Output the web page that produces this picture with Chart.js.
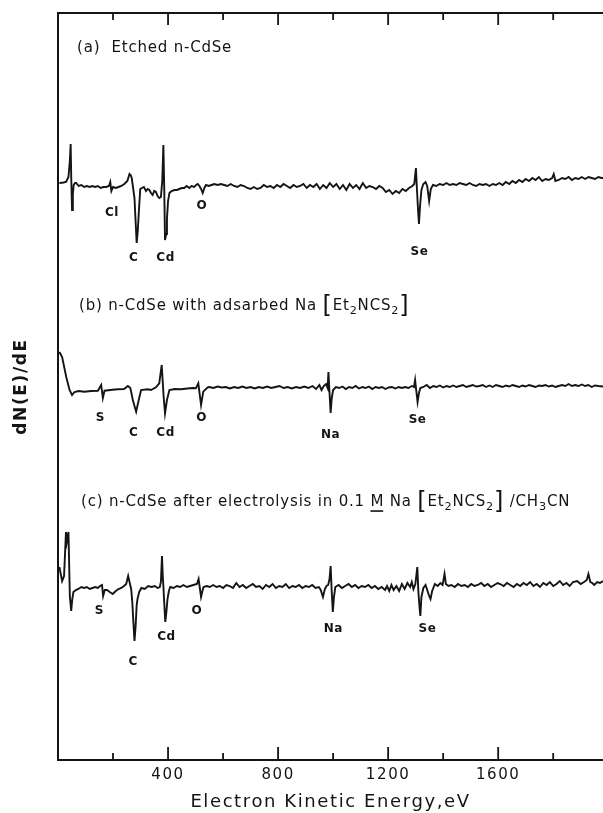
<!DOCTYPE html>
<html>
<head>
<meta charset="utf-8">
<script src="https://cdn.jsdelivr.net/npm/chart.js@4/dist/chart.umd.min.js"></script>
<style>
html,body{margin:0;padding:0;background:#fff;}
#wrap{width:603px;height:813px;position:relative;}
</style>
</head>
<body>
<div id="wrap"><canvas id="c"></canvas></div>
<script>
// ---------- DATA ----------
// x axis: electron kinetic energy (eV)
const X_MIN = 0, X_MAX = 1981;
const TICK_VALUES = [200, 400, 600, 800, 1000, 1200, 1400, 1600, 1800];
const TICK_LABELS = ['400', '800', '1200', '1600'];

// (a) Etched n-CdSe : energy (eV) and dN/dE (arbitrary units, relative to own baseline)
const ENERGY_A = [5,20,30,38,43,46,48,51,54,57,62,66,75,85,95,105,115,125,135,145,155,165,175,185,190,194,200,210,220,230,241,252,260,264,268,273,278,282,286,290,294,299,305,312,320,326,332,338,344,350,356,362,368,374,379,383,386,389,393,396,400,405,413,423,432,441,450,459,468,477,485,495,502,508,514,520,526,532,538,548,558,568,580,592,604,616,628,640,652,664,676,688,700,712,724,736,748,760,772,784,796,808,820,832,844,856,868,880,892,904,916,928,940,952,964,976,988,1000,1012,1024,1036,1048,1060,1072,1084,1096,1108,1120,1132,1144,1156,1168,1180,1192,1204,1216,1228,1240,1252,1264,1276,1288,1295,1301,1305,1309,1312,1316,1321,1328,1336,1342,1349,1355,1363,1375,1387,1400,1412,1424,1436,1448,1460,1472,1484,1496,1508,1520,1532,1544,1556,1568,1580,1592,1604,1616,1628,1640,1652,1664,1676,1688,1700,1712,1724,1736,1748,1760,1772,1784,1796,1802,1808,1820,1832,1844,1856,1868,1880,1892,1904,1916,1928,1940,1952,1964,1976,1981];
const DNDE_A = [3,3.5,4.3,9,25,42,10,-24,-8,1,3,3,0,1,-1,0,-1,0,-1,0,-2,-1,-1,0,4,-5,-1,-2,-1,0,2,5,12,11,8,-2,-12,-35,-57,-45,-25,-3,-2,-1,-5,-3,-4,-7,-9,-5,-6,-10,-12,-11,5,41,0,-54,-48,-33,-15,-7,-5,-4,-4,-3,-2,-2,0,-2,0,-1,1,2,0,-3,-7,-2,1,0,1,2,1,2,1,0,2,0,-1,1,0,-2,-3,-1,-3,-2,1,-1,0,-2,1,-1,2,0,-2,1,-1,0,2,-2,1,-1,2,-3,1,-2,3,-1,2,-3,1,-4,2,-2,1,-3,3,-2,0,-1,-3,0,-2,-6,-4,-8,-5,-7,-3,-5,-2,0,2,18,-5,-25,-38,-20,-4,2,4,0,-15,-3,1,0,2,1,3,1,2,1,3,2,1,3,1,0,2,1,2,0,2,1,3,1,4,2,5,3,6,4,7,5,8,6,9,5,7,6,8,12,5,6,8,7,9,6,8,7,9,7,9,8,7,9,8,8];

// (b) n-CdSe with adsorbed Na[Et2NCS2]
const ENERGY_B = [5,15,30,42,51,60,75,96,120,145,157,163,169,190,217,240,254,263,272,278,284,292,302,326,338,356,368,377,384,389,396,405,425,447,470,490,501,510,520,528,544,550,565,580,595,610,625,640,655,670,685,700,715,730,745,760,775,790,805,820,835,850,865,880,895,910,925,938,950,958,966,974,980,983,987,991,995,1000,1010,1022,1034,1046,1058,1070,1082,1094,1106,1118,1130,1142,1154,1166,1178,1190,1202,1214,1226,1238,1250,1262,1274,1286,1294,1298,1302,1307,1312,1317,1328,1340,1352,1364,1376,1388,1400,1412,1424,1436,1448,1460,1472,1484,1496,1508,1520,1532,1544,1556,1568,1580,1592,1604,1616,1628,1640,1652,1664,1676,1688,1700,1712,1724,1736,1748,1760,1772,1784,1796,1808,1820,1832,1844,1856,1868,1880,1892,1904,1916,1928,1940,1952,1964,1981];
const DNDE_B = [36,31,11,-2,-7,-4,-3,-3.7,-3,-2.7,3,-10,-2.7,-2,-1.3,-1,2,0,-12,-18,-23.7,-13.7,-2,-1.3,-2,0.7,4.7,23,-8.7,-25.3,-12,-2,-1,-1.3,-0.5,0,-0.3,4.7,-17,-3.7,0.7,1,0,1.5,0.5,1,-0.5,1,0,1.5,0,1,-0.5,1,0,1.5,0,1,2,0,1,-0.5,1,0,1.5,0,2,-1,3,-2,2,4,0,16,-5,-25,-10,-2,1,0,1.5,-1,1,0,2,-0.5,1,0,1.5,-1,1,0,1,-1,0.5,1,-0.5,1,0,1,0,2,1,8,-2,-14,-5,0,1,3,0,2,1,2.5,0.5,2,1,2.5,1,2,3,1,2,3,1.5,2,3,1,2.5,1,3,2,1,2.5,1.5,3,2,1,2.5,1.5,3,2,1,2.5,2,3,1.5,2.5,1,2,3,2,4,2,3,2,3.5,2,3,1,2.5,2,1.5];

// (c) n-CdSe after electrolysis in 0.1 M Na[Et2NCS2]/CH3CN
const ENERGY_C = [5,15,22,29,32,35,38,43,48,52,56,65,74,85,95,105,115,125,135,145,153,160,164,170,178,188,199,210,220,230,240,248,255,260,266,270,274,278,282,286,289,295,303,315,328,340,352,362,370,374,378,381,383,386,390,394,398,403,408,420,432,444,456,468,480,492,505,511,515,520,525,529,540,552,564,576,588,600,612,624,636,648,660,672,684,696,708,720,732,744,756,768,780,792,804,816,828,840,852,864,876,888,900,912,924,936,948,955,963,970,976,982,987,991,995,999,1003,1008,1020,1032,1044,1056,1068,1080,1092,1104,1116,1128,1140,1152,1164,1176,1189,1196,1204,1212,1220,1230,1240,1250,1260,1270,1280,1286,1292,1299,1306,1310,1314,1317,1321,1328,1336,1342,1348,1354,1360,1370,1380,1390,1398,1405,1410,1419,1430,1442,1454,1466,1478,1490,1502,1514,1526,1538,1550,1562,1574,1586,1598,1607,1620,1632,1644,1656,1668,1680,1692,1704,1716,1728,1740,1752,1764,1776,1788,1800,1812,1824,1836,1848,1860,1872,1887,1900,1912,1922,1928,1935,1942,1949,1960,1970,1981];
const DNDE_C = [20,6,11,55,45,50,55,-9,-24,-12,-5,-3,-2,0,-1,0,-2,-1,0,-1,1,2,-9,-3,-3,-5,-7,-4,-2,-1,1,3,11,5,-2,-15,-35,-54,-40,-18,-12,-5,-1,-2,1,0,1,-1,0,5,31,10,1,-15,-35,-25,-12,-4,0,-1,1,0,2,0,1,2,3,8,0,-10,-4,0,1,0,2,0,1,-1,2,1,-1,4,0,2,-1,1,3,0,1,-2,2,0,3,-1,1,0,3,-1,1,0,2,-1,1,0,2,-1,0,-3,-10,-2,1,2,8,21,-5,-25,-10,0,2,-1,1,3,0,2,-1,1,0,2,-1,1,-2,0,-3,1,-4,2,-3,1,-4,3,-2,4,0,5,-2,3,20,-5,-20,-29,-10,-1,2,-3,-8,-12,-4,3,1,4,2,13,3,1,2,0,3,1,2,0,3,1,2,4,1,3,0,2,4,3,1,4,2,0,3,1,4,2,5,1,3,0,4,2,5,1,3,6,2,4,1,5,6,3,5,7,13,5,4,2,5,4,6];

// vertical offsets of the three stacked spectra (dN/dE units)
const OFFSET_A = 574, OFFSET_B = 372, OFFSET_C = 173;
const Y_MAX = 747;

// peak labels: [text, energy eV]
const PEAKS_A = [['Cl',196],['C',275],['Cd',391],['O',523],['Se',1314]];
const PEAKS_B = [['S',154],['C',275],['Cd',391],['O',522],['Na',991],['Se',1307]];
const PEAKS_C = [['S',150],['C',273],['Cd',394],['O',505],['Na',1001],['Se',1343]];
// label vertical positions (px)
const PEAK_Y_A = {Cl:213, C:258, Cd:258, O:206, Se:252};
const PEAK_Y_B = {S:418, C:433, Cd:433, O:418, Na:435, Se:420};
const PEAK_Y_C = {S:611, C:662, Cd:637, O:611, Na:629, Se:629};

// ---------- CHART ----------
const FONT = '"DejaVu Sans", "Liberation Sans", sans-serif';
const INK = '#141414';

function series(E, V, off){ return E.map((e,i)=>({x:e, y:off+V[i]})); }

function drawRich(ctx, x, y, segs, size){
  let cx = x;
  segs.forEach(s=>{
    let fs = size, dy = 0;
    if (s.sub){ fs = size*0.75; dy = size*0.35; }
    if (s.big){ fs = size*1.6; dy = size*0.05; }
    ctx.font = fs + 'px ' + FONT;
    ctx.textBaseline = 'middle';
    ctx.fillText(s.t, cx, y+dy);
    const w = ctx.measureText(s.t).width;
    if (s.u){
      ctx.fillRect(cx, y+size*0.55, w-1, 1.6);
    }
    cx += w;
  });
}

const spacing = {
  id:'spacing',
  beforeDraw(chart){ chart.ctx.letterSpacing = '1.6px'; }
};

const decor = {
  id:'decor',
  afterDraw(chart){
    const ctx = chart.ctx, xs = chart.scales.x;
    const {top, bottom} = chart.chartArea;
    ctx.save();
    ctx.strokeStyle = INK; ctx.fillStyle = INK; ctx.lineWidth = 1.8;
    TICK_VALUES.forEach(v=>{
      const px = xs.getPixelForValue(v);
      const major = TICK_LABELS.includes(String(v));
      ctx.beginPath();
      ctx.moveTo(px, bottom); ctx.lineTo(px, bottom-(major?13:7));
      ctx.moveTo(px, top); ctx.lineTo(px, top+(major?12:7));
      ctx.stroke();
    });
    // panel captions
    ctx.letterSpacing = '0.8px';
    drawRich(ctx, 77, 48, [{t:'(a)  Etched n-CdSe'}], 15);
    drawRich(ctx, 79, 306, [{t:'(b) n-CdSe with adsarbed Na '},{t:'[',big:1},{t:'Et'},{t:'2',sub:1},{t:'NCS'},{t:'2',sub:1},{t:']',big:1}], 15);
    drawRich(ctx, 81, 502, [{t:'(c) n-CdSe after electrolysis in 0.1 '},{t:'M',u:1},{t:' Na '},{t:'[',big:1},{t:'Et'},{t:'2',sub:1},{t:'NCS'},{t:'2',sub:1},{t:']',big:1},{t:' /CH'},{t:'3',sub:1},{t:'CN'}], 15);
    // peak labels
    ctx.letterSpacing = '0.5px';
    ctx.font = 'bold 12px ' + FONT; ctx.textAlign = 'center'; ctx.textBaseline = 'middle';
    [[PEAKS_A,PEAK_Y_A],[PEAKS_B,PEAK_Y_B],[PEAKS_C,PEAK_Y_C]].forEach(([list, ys])=>{
      list.forEach(([t,e])=>{ ctx.fillText(t, xs.getPixelForValue(e), ys[t]); });
    });
    ctx.restore();
  }
};

new Chart(document.getElementById('c'), {
  type:'line',
  data:{ datasets:[
    {label:'(a)', data:series(ENERGY_A, DNDE_A, OFFSET_A)},
    {label:'(b)', data:series(ENERGY_B, DNDE_B, OFFSET_B)},
    {label:'(c)', data:series(ENERGY_C, DNDE_C, OFFSET_C)}
  ]},
  options:{
    responsive:true, maintainAspectRatio:false, animation:false, devicePixelRatio:1,
    layout:{padding:0},
    elements:{ line:{borderColor:INK, borderWidth:1.9, tension:0, fill:false}, point:{radius:0} },
    plugins:{ legend:{display:false}, tooltip:{enabled:false} },
    scales:{
      x:{ type:'linear', position:'bottom', min:X_MIN, max:X_MAX,
        afterFit(s){ s.height = 53; },
        afterBuildTicks(s){ s.ticks = TICK_VALUES.map(v=>({value:v})); },
        grid:{display:false, drawTicks:false},
        border:{display:true, color:INK, width:2},
        ticks:{ autoSkip:false, maxRotation:0, padding:6, color:INK, font:{family:FONT, size:15},
          callback:(v)=> TICK_LABELS.includes(String(v)) ? String(v) : '' },
        title:{display:true, text:'Electron Kinetic Energy,eV', color:INK, font:{family:FONT, size:18}, padding:{top:0,bottom:0}}
      },
      xTop:{ type:'linear', position:'top', min:X_MIN, max:X_MAX,
        afterFit(s){ s.height = 13; },
        grid:{display:false, drawTicks:false}, ticks:{display:false},
        border:{display:true, color:INK, width:2}
      },
      y:{ min:0, max:Y_MAX,
        afterFit(s){ s.width = 58; },
        grid:{display:false, drawTicks:false}, ticks:{display:false},
        border:{display:true, color:INK, width:2},
        title:{display:true, text:'dN(E)/dE', color:INK, font:{family:FONT, size:17, weight:'bold'}, padding:{top:11,bottom:0}}
      }
    }
  },
  plugins:[spacing, decor]
});
</script>
</body>
</html>
